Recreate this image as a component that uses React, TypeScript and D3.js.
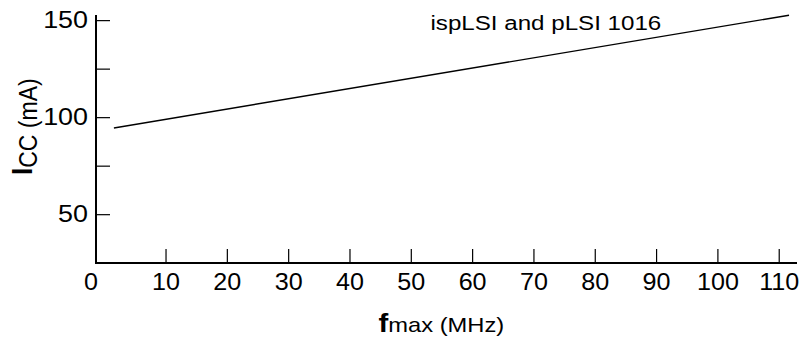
import React from "react";
import * as d3 from "d3";

// Data
const fmaxMHz = [1.5, 111.6];
const iccMA = [94.7, 152.8];
const xTickValues = [10, 20, 30, 40, 50, 60, 70, 80, 90, 100, 110];
const yMajorTicks = [150, 100, 50];
const yMinorTicks = [125, 75];
const titleText = "ispLSI and pLSI 1016";

const W = 799;
const H = 341;
const FONT = "'Liberation Sans', Arial, Helvetica, sans-serif";

export default function App() {
  const x = d3.scaleLinear().domain([-1.42, 112.9]).range([96, 797]);
  const y = d3.scaleLinear().domain([25.1, 152.9]).range([263, 15]);

  const pts: [number, number][] = fmaxMHz.map((f, i) => [f, iccMA[i]]);
  const line = d3
    .line<[number, number]>()
    .x((d) => x(d[0]))
    .y((d) => y(d[1]));

  const x0 = x.range()[0];
  const yBase = y.range()[0];
  const yTop = y.range()[1];
  const tickLen = 14;
  const sx = 1.07;

  return (
    <svg
      width={W}
      height={H}
      style={{ position: "absolute", left: 0, top: 0, background: "#fff" }}
      fontFamily={FONT}
    >
      <rect width={W} height={H} fill="#fff" />
      {/* axes */}
      <line x1={x0} x2={x0} y1={yTop} y2={yBase + 1} stroke="#000" strokeWidth={2} />
      <line x1={x0 - 1} x2={x.range()[1]} y1={yBase} y2={yBase} stroke="#000" strokeWidth={2} />

      {/* y ticks */}
      {[...yMajorTicks, ...yMinorTicks].map((v) => (
        <line
          key={"yt" + v}
          x1={x0}
          x2={x0 + tickLen}
          y1={y(v)}
          y2={y(v)}
          stroke="#000"
          strokeWidth={1.2}
        />
      ))}
      {yMajorTicks.map((v) => (
        <text
          key={"yl" + v}
          transform={`translate(88,${y(v) + 7.5}) scale(1.12,1)`}
          textAnchor="end"
          fontSize={24}
          fill="#000"
        >
          {v}
        </text>
      ))}

      {/* x ticks */}
      {xTickValues.map((v) => (
        <line
          key={"xt" + v}
          x1={x(v)}
          x2={x(v)}
          y1={yBase}
          y2={yBase - tickLen}
          stroke="#000"
          strokeWidth={1.2}
        />
      ))}
      {xTickValues.map((v) => (
        <text
          key={"xl" + v}
          transform={`translate(${x(v)},290) scale(${sx},1)`}
          textAnchor="middle"
          fontSize={23.5}
          fill="#000"
        >
          {v}
        </text>
      ))}
      <text
        transform={`translate(${x0 - 5},290) scale(${sx},1)`}
        textAnchor="middle"
        fontSize={23.5}
        fill="#000"
      >
        0
      </text>

      {/* data line */}
      <path d={line(pts) || ""} fill="none" stroke="#000" strokeWidth={1.4} />

      {/* title */}
      <text transform={`translate(430.5,30) scale(1.15,1)`} fontSize={21} fill="#000">
        {titleText}
      </text>

      {/* x axis label */}
      <text transform={`translate(378.5,332) scale(1.13,1)`} fill="#000">
        <tspan fontWeight="bold" fontSize={26}>f</tspan>
        <tspan fontSize={21}>max (MHz)</tspan>
      </text>

      {/* y axis label */}
      <text transform={`translate(37,175) rotate(-90) scale(1,1.13)`} fill="#000">
        <tspan fontWeight="bold" fontSize={26} dy={-4.5}>I</tspan>
        <tspan fontSize={23} dy={4.5}>CC (mA)</tspan>
      </text>
    </svg>
  );
}
